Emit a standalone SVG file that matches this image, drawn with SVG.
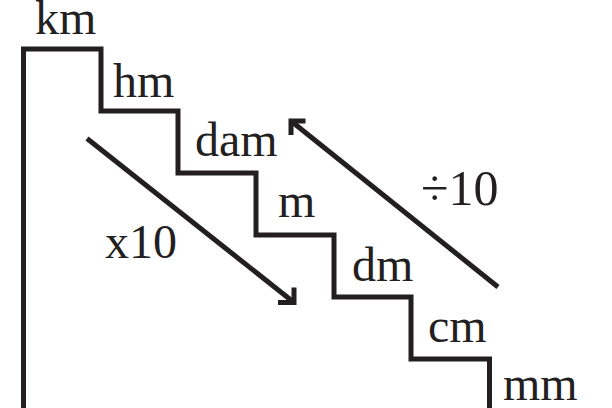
<svg xmlns="http://www.w3.org/2000/svg" width="612" height="408" viewBox="0 0 612 408">
<style>
.ln{fill:none;stroke:#231f20;stroke-width:5;stroke-linejoin:miter;stroke-linecap:butt}
.ar{fill:none;stroke:#231f20;stroke-width:5;stroke-linejoin:miter;stroke-miterlimit:10}
.t{font-family:"Liberation Serif","Times New Roman",serif;font-size:48px;fill:#231f20}
</style>
<rect width="612" height="408" fill="#ffffff"/>
<g id="stairs">
<path class="ln" d="M23.5,408 V49 H101 V111 H178 V173 H256 V235 H334 V297 H411 V359 H489.5 V408"/>
</g>
<g id="km"><text class="t" x="35" y="33.5">km</text></g>
<g id="hm"><text class="t" x="113" y="96.7">hm</text></g>
<g id="dam"><text class="t" x="195" y="156">dam</text></g>
<g id="m"><text class="t" x="278" y="216.7">m</text></g>
<g id="dm"><text class="t" x="352" y="280.7">dm</text></g>
<g id="cm"><text class="t" x="428" y="341.7">cm</text></g>
<g id="mm"><text class="t" x="503" y="399.5">mm</text></g>
<g id="connectors">
<line class="ar" x1="87" y1="138.5" x2="294" y2="302.5"/>
<polyline class="ar" points="278,302.5 294,302.5 294,287.5"/>
<line class="ar" x1="498" y1="287" x2="291" y2="121"/>
<polyline class="ar" points="305.5,121 291,121 291,135"/>
</g>
<g id="lbl-x10"><text class="t" x="105" y="258.3">x10</text></g>
<g id="lbl-div10"><text class="t" x="421" y="205" style="font-size:50px">÷10</text></g>
</svg>
